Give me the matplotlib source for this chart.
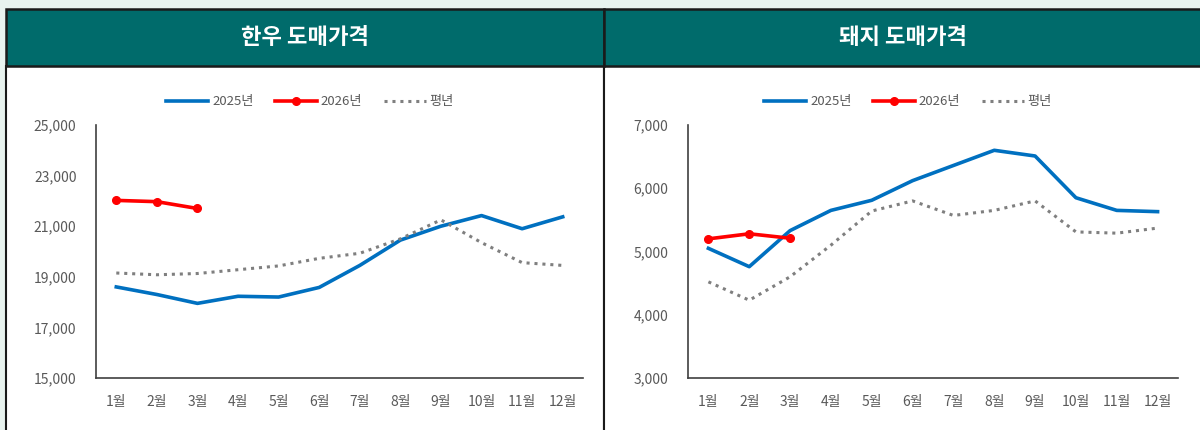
import matplotlib.pyplot as plt
from matplotlib.patches import Rectangle
from matplotlib.ticker import FuncFormatter

plt.rcParams['font.family'] = ['Noto Sans CJK KR', 'DejaVu Sans']

months = ['1월', '2월', '3월', '4월', '5월', '6월', '7월', '8월', '9월', '10월', '11월', '12월']

# 한우 도매가격
hanwoo_2025 = [18600, 18300, 17950, 18230, 18200, 18580, 19450, 20450, 21000, 21420, 20900, 21370]
hanwoo_2026 = [22020, 21970, 21700]
hanwoo_avg = [19150, 19080, 19130, 19280, 19430, 19730, 19930, 20500, 21250, 20350, 19560, 19450]

# 돼지 도매가격
pork_2025 = [5050, 4760, 5330, 5650, 5810, 6120, 6360, 6600, 6510, 5850, 5650, 5630]
pork_2026 = [5200, 5280, 5210]
pork_avg = [4520, 4230, 4600, 5100, 5640, 5800, 5570, 5650, 5800, 5310, 5290, 5370]

W, H = 1200, 430
fig = plt.figure(figsize=(12, 4.3), dpi=100)
fig.patch.set_facecolor('#e8f3ef')

def px(x, y, w, h):
    return (x / W, 1 - (y + h) / H, w / W, h / H)

# panels (behind the axes)
for x0, w in [(6, 598), (604, 600)]:
    x, y, ww, hh = px(x0, 66, w, 370)
    fig.patches.append(Rectangle((x, y), ww, hh, transform=fig.transFigure,
                                 facecolor='white', edgecolor='#1a1a1a', lw=1.5, zorder=-10))
    x, y, ww, hh = px(x0, 9, w, 57)
    fig.patches.append(Rectangle((x, y), ww, hh, transform=fig.transFigure,
                                 facecolor='#006b6b', edgecolor='#1a1a1a', lw=1.8, zorder=-9))

fig.text(305 / W, 1 - 38 / H, '한우 도매가격', color='white', fontsize=16,
         fontweight='bold', ha='center', va='center')
fig.text(903 / W, 1 - 38 / H, '돼지 도매가격', color='white', fontsize=16,
         fontweight='bold', ha='center', va='center')

def draw(rect, v25, v26, vavg, ylim, step, legend_x):
    ax = fig.add_axes(rect)
    ax.patch.set_alpha(0)
    x = list(range(len(months)))
    l1, = ax.plot(x, v25, color='#0070c0', lw=2.6, label='2025년')
    l2, = ax.plot(x[:len(v26)], v26, color='#ff0000', lw=2.6, marker='o',
                  markersize=5.5, label='2026년')
    l3, = ax.plot(x, vavg, color='#7f7f7f', lw=2.2, ls=(0, (1, 1.6)), label='평년')
    ax.set_xlim(-0.5, 11.5)
    ax.set_ylim(*ylim)
    ax.set_yticks(range(ylim[0], ylim[1] + 1, step))
    ax.yaxis.set_major_formatter(FuncFormatter(lambda v, p: f'{int(v):,}'))
    ax.set_xticks(x)
    ax.set_xticklabels(months)
    ax.tick_params(length=0, labelsize=10, colors='#595959')
    ax.tick_params(axis='x', pad=12)
    ax.tick_params(axis='y', pad=14)
    for s in ['top', 'right']:
        ax.spines[s].set_visible(False)
    for s in ['left', 'bottom']:
        ax.spines[s].set_color('#404040')
        ax.spines[s].set_linewidth(1.2)
    fig.legend(handles=[l1, l2, l3], loc='center', bbox_to_anchor=(legend_x / W, 1 - 102 / H),
               ncol=3, frameon=False, fontsize=9.5, handlelength=3.2, columnspacing=1.6,
               handletextpad=0.3, labelcolor='#595959')
    return ax

draw(px(96, 125, 487, 253), hanwoo_2025, hanwoo_2026, hanwoo_avg, (15000, 25000), 2000, 310)
draw(px(688, 125, 490, 253), pork_2025, pork_2026, pork_avg, (3000, 7000), 1000, 908)

fig.savefig('out.png', dpi=100, facecolor=fig.get_facecolor())
